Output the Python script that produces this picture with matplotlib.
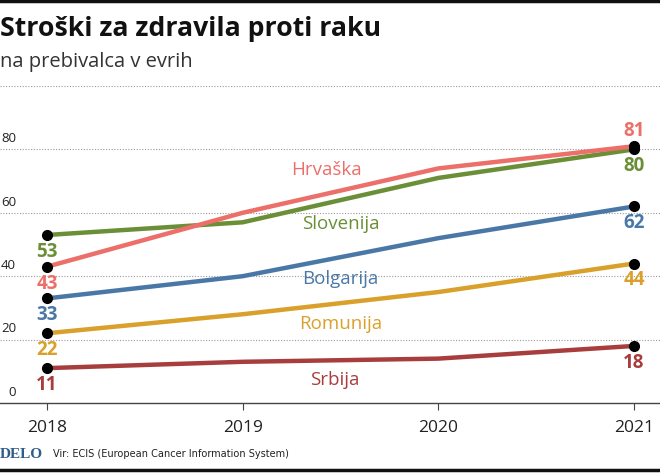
import matplotlib
matplotlib.use("Agg")
import matplotlib.pyplot as plt
from matplotlib.lines import Line2D
import matplotlib.transforms as mtransforms

years = [2018, 2019, 2020, 2021]
series_names = ["Slovenija", "Hrvaška", "Bolgarija", "Romunija", "Srbija"]
slovenija = [53, 57, 71, 80]
hrvaska = [43, 60, 74, 81]
bolgarija = [33, 40, 52, 62]
romunija = [22, 28, 35, 44]
srbija = [11, 13, 14, 18]
yticks = [0, 20, 40, 60, 80]
gridvals = [20, 40, 60, 80, 100]

colors = {
    "Slovenija": "#6a8f37",
    "Hrvaška": "#ec6f69",
    "Bolgarija": "#4a78a6",
    "Romunija": "#d9a12b",
    "Srbija": "#a83d3d",
}
data = {
    "Slovenija": slovenija,
    "Hrvaška": hrvaska,
    "Bolgarija": bolgarija,
    "Romunija": romunija,
    "Srbija": srbija,
}
name_pos = {
    "Hrvaška": (2019.43, 73.5),
    "Slovenija": (2019.5, 56.5),
    "Bolgarija": (2019.5, 39.0),
    "Romunija": (2019.5, 25.0),
    "Srbija": (2019.47, 7.3),
}

plt.rcParams['font.family'] = ['Open Sans', 'DejaVu Sans']

W, H = 660, 473
fig = plt.figure(figsize=(6.6, 4.73), dpi=100)
y0 = 403
y100 = 86
ax = fig.add_axes([0, 1 - y0 / H, 1, (y0 - y100) / H])
px_per_year = (634 - 47) / 3
ax.set_xlim(2018 - 47 / px_per_year, 2021 + 26 / px_per_year)
ax.set_ylim(0, 100)
for s in ax.spines.values():
    s.set_visible(False)
ax.spines['bottom'].set_visible(True)
ax.spines['bottom'].set_color('#444444')
ax.spines['bottom'].set_linewidth(1.0)
ax.set_yticks([])
ax.set_xticks(years)
ax.set_xticklabels([str(y) for y in years], fontsize=12.5, color='#222222')
ax.tick_params(axis='x', length=5, width=0.8, color='#444444', pad=7)

for g in gridvals:
    ax.axhline(g, color='#999999', lw=0.8, ls=(0, (1, 1.5)), zorder=1)

trans = mtransforms.blended_transform_factory(ax.transAxes, ax.transData)
off = mtransforms.offset_copy(trans, fig=fig, x=0, y=3, units='points')
for t in yticks:
    ax.text(16 / W, t, str(t), transform=off, ha='right', va='bottom',
            fontsize=9.5, color='#222222')

order = ["Srbija", "Romunija", "Bolgarija", "Slovenija", "Hrvaška"]
for name in order:
    vals = data[name]
    ax.plot(years, vals, color=colors[name], lw=3.2, solid_capstyle='butt',
            zorder=3, clip_on=False)
for name in order:
    vals = data[name]
    ax.plot([years[0], years[-1]], [vals[0], vals[-1]], 'o', color='black',
            ms=7, zorder=4, clip_on=False)

for name in series_names:
    vals = data[name]
    c = colors[name]
    ax.annotate(str(vals[0]), (years[0], vals[0]), xytext=(0, -5),
                textcoords='offset points', ha='center', va='top',
                fontsize=13.5, fontweight='bold', color=c)
    if name == "Hrvaška":
        ax.annotate(str(vals[-1]), (years[-1], vals[-1]), xytext=(0, 4),
                    textcoords='offset points', ha='center', va='bottom',
                    fontsize=13.5, fontweight='bold', color=c)
    else:
        ax.annotate(str(vals[-1]), (years[-1], vals[-1]), xytext=(0, -5),
                    textcoords='offset points', ha='center', va='top',
                    fontsize=13.5, fontweight='bold', color=c)

for name, (x, y) in name_pos.items():
    ax.text(x, y, name, ha='center', va='center', fontsize=13.5,
            color=colors[name])

fig.text(0, 1 - 29 / H, "Stroški za zdravila proti raku", fontsize=19.2,
         fontweight='bold', ha='left', va='center', color='#111111')
fig.text(0, 1 - 62 / H, "na prebivalca v evrih", fontsize=14.5,
         ha='left', va='center', color='#333333')

fig.text(0, 1 - 454 / H, "DELO", fontsize=11, fontweight='bold',
         family='Liberation Serif', color='#2f5d8a', ha='left', va='center')
fig.text(53 / W, 1 - 454 / H, "Vir: ECIS (European Cancer Information System)",
         fontsize=7.8, ha='left', va='center', color='#222222',
         family='DejaVu Sans', fontstretch='condensed')

fig.add_artist(Line2D([0, 1], [1 - 1.5 / H, 1 - 1.5 / H], color='#111111',
                      lw=2.5, transform=fig.transFigure))
fig.add_artist(Line2D([0, 1], [1 - 470 / H, 1 - 470 / H], color='#111111',
                      lw=2.5, transform=fig.transFigure))

fig.savefig("out.png", dpi=100)
